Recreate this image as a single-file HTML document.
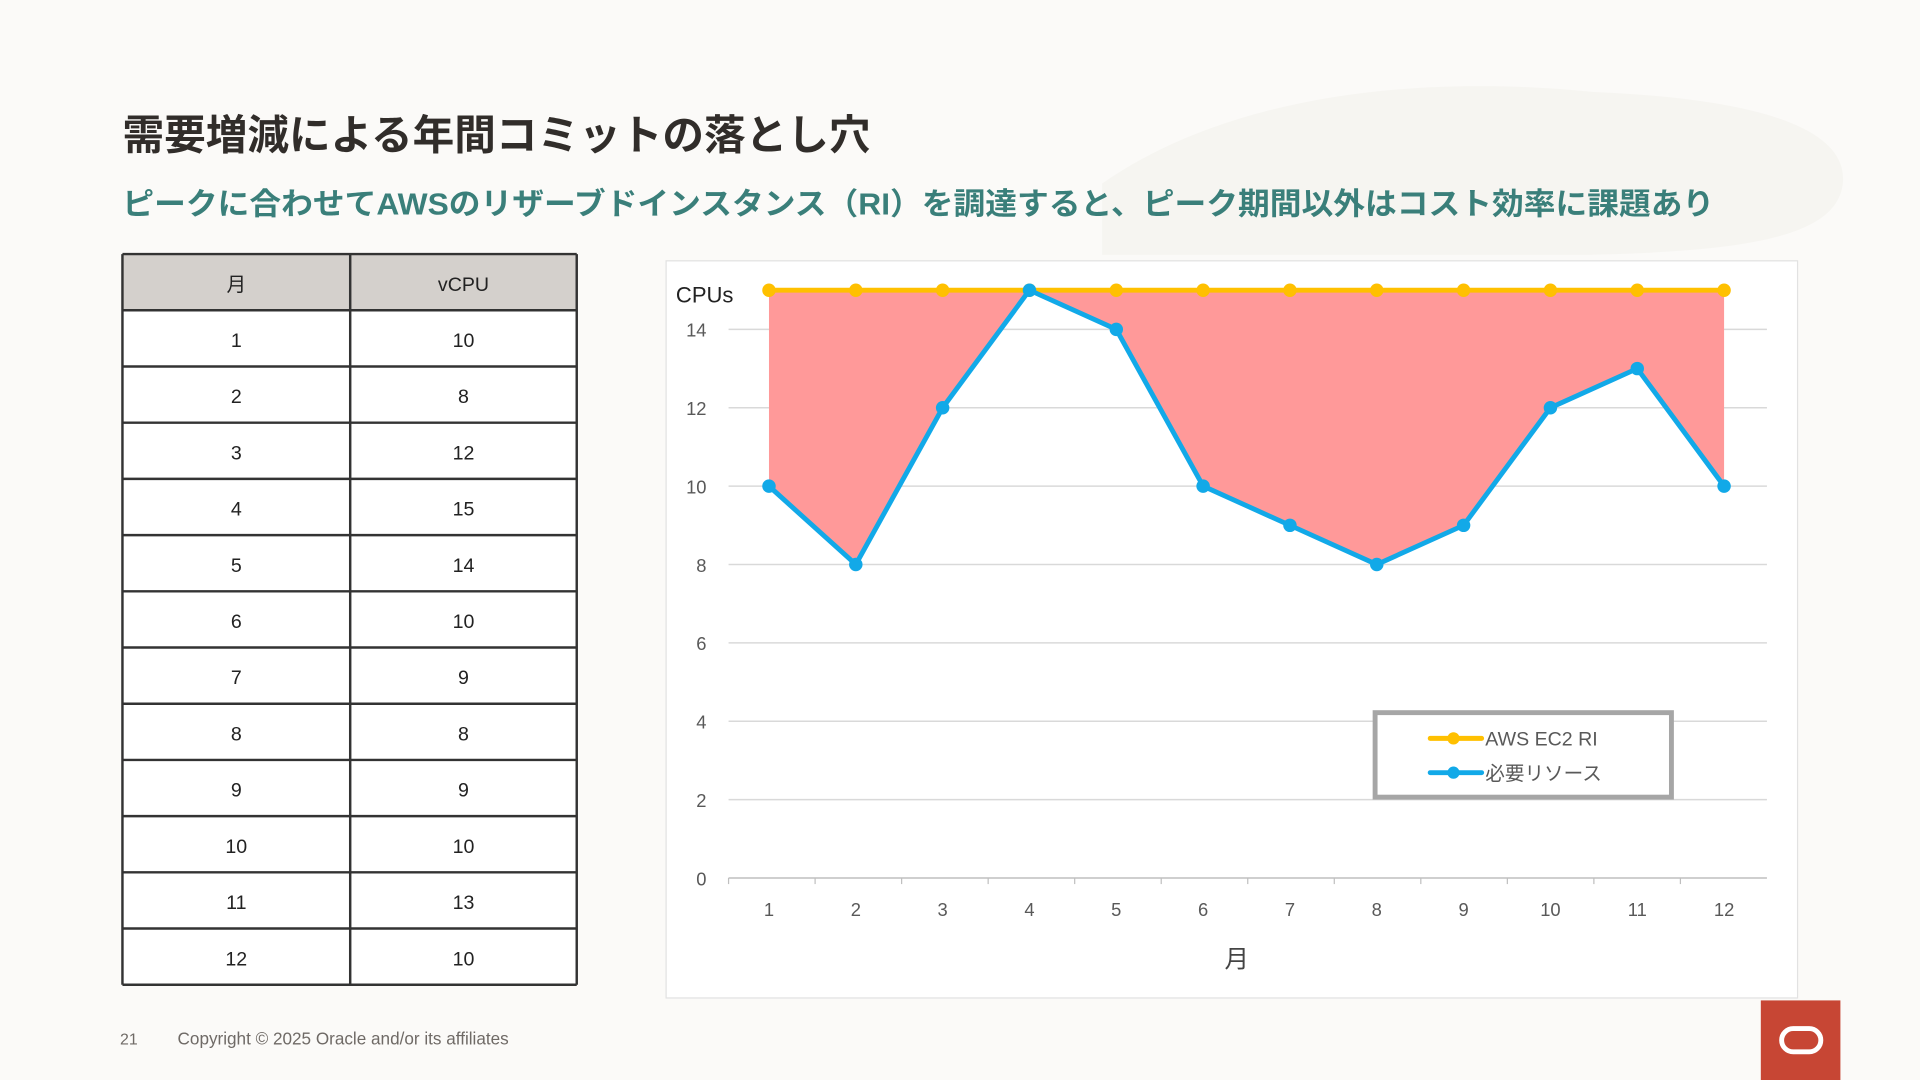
<!DOCTYPE html>
<html><head><meta charset="utf-8"><style>
html,body{margin:0;padding:0;background:#fbfaf8;width:1920px;height:1080px;overflow:hidden}
svg{display:block;font-family:"Liberation Sans","Noto Sans CJK JP",sans-serif}
</style></head><body>
<svg id="page" width="1920" height="1080" viewBox="0 0 1568 882">
<rect x="0" y="0" width="1568" height="882" fill="#fbfaf8"/>
<path d="M900,150 C1000,80 1150,60 1300,75 C1420,80 1510,100 1505,150 C1500,190 1440,205 1300,208 L900,208 Z" fill="#f3f1ed" opacity="0.6"/>
<text x="100" y="122" font-size="34" font-weight="bold" fill="#312d2a">需要増減による年間コミットの落とし穴</text>
<text x="100" y="175" font-size="25" font-weight="bold" fill="#3a7f7a" textLength="1300" lengthAdjust="spacingAndGlyphs">ピークに合わせてAWSのリザーブドインスタンス（RI）を調達すると、ピーク期間以外はコスト効率に課題あり</text>
<g id="table"></g>
<rect x="544" y="213" width="924" height="602" fill="#fff" stroke="#e2e2e2"/>
<g id="chart"></g>
<text x="98" y="853" font-size="13" fill="#6f6a66">21</text>
<text x="145" y="853" font-size="14" fill="#6f6a66">Copyright © 2025 Oracle and/or its affiliates</text>
<rect x="1438" y="817" width="65" height="65" fill="#c74634"/>
<rect x="1455" y="840" width="32" height="19" rx="9.5" fill="none" stroke="#fff" stroke-width="4"/>
</svg>
<script>
const months=[1,2,3,4,5,6,7,8,9,10,11,12];
const tableVcpu=[10,8,12,15,14,10,9,8,9,10,13,10];
const demand=[10,8,12,15,14,10,9,8,9,12,13,10];
const ri=[15,15,15,15,15,15,15,15,15,15,15,15];
const yTicks=[0,2,4,6,8,10,12,14];
const NS="http://www.w3.org/2000/svg";
function mk(tag,attrs,parent,text){const e=document.createElementNS(NS,tag);for(const k in attrs)e.setAttribute(k,attrs[k]);if(text!==undefined)e.textContent=text;parent.appendChild(e);return e;}
const tg=document.getElementById('table');
const rowH=45.9,top0=207.5,x0=100,xm=286,x1=471;
let h=mk('rect',{x:x0,y:top0,width:x1-x0,height:rowH,fill:'#d4d0cc'},tg);


let t=mk('text',{x:(x0+xm)/2,y:top0+30,'font-size':16,'text-anchor':'middle',fill:'#222'},tg,'月');


t=mk('text',{x:(xm+x1)/2,y:top0+30,'font-size':16,'text-anchor':'middle',fill:'#222'},tg,'vCPU');


months.forEach((m,i)=>{const y=top0+rowH*(i+1);
 let r=mk('rect',{x:x0,y:y,width:x1-x0,height:rowH,fill:'#fff'},tg);
 
 
 let a=mk('text',{x:(x0+xm)/2,y:y+30,'font-size':16,'text-anchor':'middle',fill:'#222'},tg,String(m));
 
 
 let b=mk('text',{x:(xm+x1)/2,y:y+30,'font-size':16,'text-anchor':'middle',fill:'#222'},tg,String(tableVcpu[i]));
 
 
});
for(let i=0;i<=13;i++){mk('line',{x1:x0,x2:x1,y1:top0+rowH*i,y2:top0+rowH*i,stroke:'#333','stroke-width':2},tg);}
mk('line',{x1:x0,x2:x0,y1:top0,y2:top0+rowH*13,stroke:'#333','stroke-width':2},tg);
mk('line',{x1:xm,x2:xm,y1:top0,y2:top0+rowH*13,stroke:'#333','stroke-width':2},tg);
mk('line',{x1:x1,x2:x1,y1:top0,y2:top0+rowH*13,stroke:'#333','stroke-width':2},tg);
const cg=document.getElementById('chart');
const X=m=>628+(m-1)*(1408-628)/11;
const Y=v=>717-v*32;
yTicks.forEach(v=>{
 if(v>0){let l=mk('line',{x1:595,x2:1443,y1:Y(v),y2:Y(v),stroke:'#d9d9d9','stroke-width':1.2},cg);
 
 }
 let tx=mk('text',{x:577,y:Y(v)+6,'font-size':15,'text-anchor':'end',fill:'#595959'},cg,String(v));
 
 
});
mk('line',{x1:595,x2:1443,y1:Y(0),y2:Y(0),stroke:'#bfbfbf','stroke-width':1.2},cg);
months.forEach((m,i)=>{
 const tx0=595+i*(1443-595)/12;
 mk('line',{x1:tx0,x2:tx0,y1:Y(0),y2:Y(0)+5,stroke:'#bfbfbf'},cg);
 let tx=mk('text',{x:X(m),y:748,'font-size':15,'text-anchor':'middle',fill:'#595959'},cg,String(m));
 
 
});
let yt=mk('text',{x:552,y:247,'font-size':18,fill:'#222'},cg,'CPUs');


let xt=mk('text',{x:1010,y:790,'font-size':20,'text-anchor':'middle',fill:'#444'},cg,'月');


let d='M'+months.map((m,i)=>X(m)+','+Y(ri[i])).join(' L');
for(let i=months.length-1;i>=0;i--)d+=' L'+X(months[i])+','+Y(demand[i]);
let ar=mk('path',{d:d+'Z',fill:'#ff9999'},cg);


function series(vals,color,name){
 let p=mk('polyline',{points:months.map((m,i)=>X(m)+','+Y(vals[i])).join(' '),fill:'none',stroke:color,'stroke-width':4,'stroke-linejoin':'round'},cg);
 
 
 months.forEach((m,i)=>{let c=mk('circle',{cx:X(m),cy:Y(vals[i]),r:5.5,fill:color},cg);
  
  });
}
series(ri,'#ffc000','ri');
series(demand,'#12a9e8','demand');
const lg=mk('g',{},cg);


mk('rect',{x:1123,y:582,width:242,height:69,fill:'#fff',stroke:'#a6a6a6','stroke-width':4},lg);
[['AWS EC2 RI','#ffc000',603],['必要リソース','#12a9e8',631]].forEach(([lab,col,y])=>{
 mk('line',{x1:1168,x2:1210,y1:y,y2:y,stroke:col,'stroke-width':4,'stroke-linecap':'round'},lg);
 mk('circle',{cx:1187,cy:y,r:5,fill:col},lg);
 let tx=mk('text',{x:1213,y:y+6,'font-size':16,fill:'#595959'},lg,lab);
 
 
});
</script>
</body></html>
